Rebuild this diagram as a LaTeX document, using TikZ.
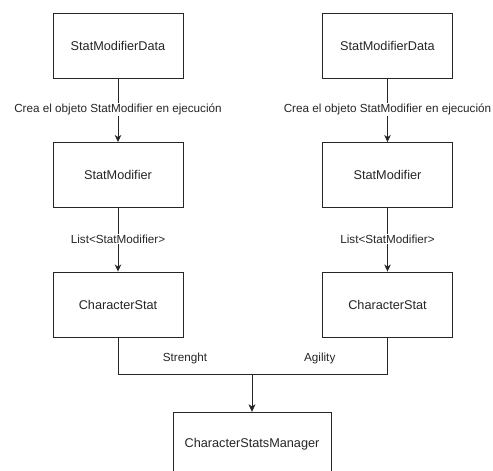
\documentclass[tikz,border=0pt]{standalone}
\usepackage{fontspec}
\setmainfont{Liberation Sans}
\usetikzlibrary{arrows.meta, positioning}

\begin{document}
\begin{tikzpicture}[
  x=1pt, y=-1pt, >={Stealth[length=7pt, width=6.5pt, inset=2pt]},
  box/.style={rectangle, draw=black!85, fill=white, line width=0.9pt,
              minimum width=130pt, minimum height=65pt, inner sep=0pt,
              font=\fontsize{12.7}{14}\selectfont, text=black!85},
  lbl/.style={fill=white, inner sep=1pt, font=\fontsize{11.7}{13}\selectfont,
              text=black!85},
  ar/.style={->, draw=black!85, line width=0.9pt}]
  \useasboundingbox[fill=white] (0,0) rectangle (493,471);
  % left chain
  \node[box] (dataL) at (118, 45.5)  {StatModifierData};
  \node[box] (modL)  at (118, 175)   {StatModifier};
  \node[box] (statL) at (118, 304.5) {CharacterStat};
  % right chain
  \node[box] (dataR) at (387.5, 45.5)  {StatModifierData};
  \node[box] (modR)  at (387.5, 175)   {StatModifier};
  \node[box] (statR) at (387.5, 304.5) {CharacterStat};
  % manager
  \node[box, minimum width=158pt] (mgr) at (252, 444.5) {CharacterStatsManager};
  \coordinate (jn) at (252, 374);
  \draw[ar] (dataL) -- node[lbl, pos=0.49] {Crea el objeto StatModifier en ejecución} (modL);
  \draw[ar] (dataR) -- node[lbl, pos=0.49] {Crea el objeto StatModifier en ejecución} (modR);
  \draw[ar] (modL) -- node[lbl, pos=0.49] {List<StatModifier>} (statL);
  \draw[ar] (modR) -- node[lbl, pos=0.49] {List<StatModifier>} (statR);
  \draw[ar] (statL) |- node[lbl, pos=0.75, above=9pt] {Strenght} (jn) -- (mgr);
  \draw[ar] (statR) |- node[lbl, pos=0.75, above=9pt] {Agility} (jn) -- (mgr);
\end{tikzpicture}
\end{document}
